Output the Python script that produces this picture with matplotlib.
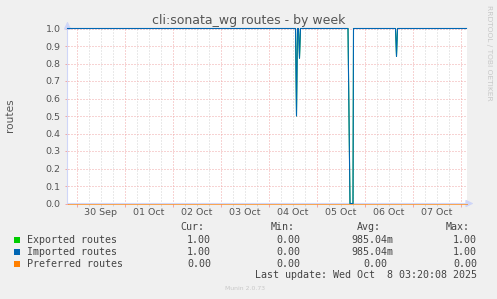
import matplotlib
matplotlib.use("Agg")
import matplotlib.pyplot as plt
from matplotlib.patches import Rectangle
from matplotlib.transforms import blended_transform_factory


# ---------- DATA ----------
# time in hours since 30 Sep 00:00
time_range = (-4.5, 195.0)
times = [-4.5, 109.5, 110.0, 110.5, 111.0, 111.5, 112.0,
         135.75, 136.75, 138.25, 138.5, 159.5, 160.0, 160.5, 195.0]
exported = [1.0, 1.0, 0.5, 1.0, 1.0, 0.83, 1.0,
            1.0, 0.0, 0.0, 1.0, 1.0, 0.84, 1.0, 1.0]
imported = [1.0, 1.0, 0.5, 1.0, 1.0, 0.83, 1.0,
            1.0, 0.0, 0.0, 1.0, 1.0, 0.84, 1.0, 1.0]
pref_times = [-4.5, 195.0]
preferred = [0.0, 0.0]

day_labels = ["30 Sep", "01 Oct", "02 Oct", "03 Oct",
              "04 Oct", "05 Oct", "06 Oct", "07 Oct"]
day_starts = [0, 24, 48, 72, 96, 120, 144, 168, 192]
six_hours = [h for h in range(0, 196, 6)]
y_ticks = [0.0, 0.1, 0.2, 0.3, 0.4, 0.5, 0.6, 0.7, 0.8, 0.9, 1.0]

series_names = ["Exported routes", "Imported routes", "Preferred routes"]
series_colors = ["#00CC00", "#0066B3", "#FF8000"]
cur = ["1.00", "1.00", "0.00"]
mins = ["0.00", "0.00", "0.00"]
avgs = ["985.04m", "985.04m", "0.00"]
maxs = ["1.00", "1.00", "0.00"]

W, H = 497, 299


def px(x, y):
    # pixel coords (top-left origin) -> figure fraction
    return x / W, 1 - y / H


# ---------- FIGURE ----------
fig = plt.figure(figsize=(W / 100, H / 100), dpi=100, facecolor="#F0F0F0")
# half-pixel offsets so 0.0 and 1.0 fall on pixel centres
left, top, right, bottom = 67.5, 28.5, 466.5, 203.5
ax = fig.add_axes([left / W, 1 - bottom / H, (right - left) / W, (bottom - top) / H])
ax.set_facecolor("white")
ax.set_xlim(*time_range)
ax.set_ylim(0, 1.0)
for s in ax.spines.values():
    s.set_visible(False)

grid_minor = "#d4d4d4"
grid_major = "#f0a8a8"
dots = (0, (1, 2))

for h in six_hours:
    if h not in day_starts:
        ax.axvline(h, color=grid_minor, lw=0.72, ls=dots, zorder=1)
for h in day_starts:
    ax.axvline(h, color=grid_major, lw=0.72, ls=dots, zorder=1)
for y in y_ticks[1:]:
    ax.axhline(y, color=grid_major, lw=0.72, ls=dots, zorder=1)

ax.set_yticks(y_ticks)
ax.set_yticklabels([f"{v:.1f}" for v in y_ticks])
ax.set_xticks(day_starts)
ax.set_xticklabels([])
ax.set_xticks([h for h in six_hours if h not in day_starts], minor=True)
ax.tick_params(axis="y", length=2.2, width=0.72, color=grid_major, pad=2.8,
               labelsize=6.8, labelcolor="#555555")
ax.tick_params(axis="x", which="major", length=2.2, width=0.72, color=grid_major)
ax.tick_params(axis="x", which="minor", length=1.5, width=0.72, color=grid_minor)

tr = blended_transform_factory(ax.transData, fig.transFigure)
for i, lab in enumerate(day_labels):
    ax.text(day_starts[i] + 12.25, 1 - 212.5 / H, lab, transform=tr,
            ha="center", va="center", fontsize=6.8, color="#555555")

# axes with arrows
axis_col = "#CFD6F8"
ax.annotate("", xy=(1.0175, 0), xytext=(0, 0), xycoords="axes fraction",
            arrowprops=dict(arrowstyle="-|>,head_length=0.45,head_width=0.22",
                            color=axis_col, lw=0.8, shrinkA=0, shrinkB=0),
            annotation_clip=False)
ax.annotate("", xy=(0, 1.04), xytext=(0, 0), xycoords="axes fraction",
            arrowprops=dict(arrowstyle="-|>,head_length=0.45,head_width=0.22",
                            color=axis_col, lw=0.8, shrinkA=0, shrinkB=0),
            annotation_clip=False)

# series
ax.plot(times, exported, color=series_colors[0], lw=0.72, zorder=3, clip_on=False)
ax.plot(times, imported, color=series_colors[1], lw=0.8, zorder=4, clip_on=False)
ax.plot(pref_times, preferred, color=series_colors[2], lw=0.72, alpha=0.65,
        zorder=5, clip_on=False)

# ---------- TEXTS ----------
fig.text(*px(248.8, 24), "cli:sonata_wg routes - by week", ha="center",
         va="baseline", fontsize=9.0, color="#555555")
fig.text(*px(10, 115), "routes", rotation=90, ha="center", va="center",
         fontsize=7.6, color="#555555")
fig.text(*px(489, 5), "RRDTOOL / TOBI OETIKER", rotation=270, ha="center",
         va="top", fontsize=5.4, color="#c8c8c8")
fig.text(*px(245, 288), "Munin 2.0.73", ha="center", va="center",
         fontsize=4.4, color="#c8c8c8")

mono = dict(family="DejaVu Sans Mono", fontsize=7.2, color="#444444", va="center")
fig.text(*px(204, 227), "Cur:", ha="right", **mono)
fig.text(*px(295, 227), "Min:", ha="right", **mono)
fig.text(*px(381, 227), "Avg:", ha="right", **mono)
fig.text(*px(470, 227), "Max:", ha="right", **mono)

rows = [240, 252, 264]
for i, name in enumerate(series_names):
    y = rows[i]
    x0, y0 = px(14, y + 3)
    fig.patches.append(Rectangle((x0, y0), 6 / W, 6 / H, transform=fig.transFigure,
                                 facecolor=series_colors[i], edgecolor="none"))
    fig.text(*px(27, y), name, ha="left", **mono)
    fig.text(*px(211, y), cur[i], ha="right", **mono)
    fig.text(*px(300, y), mins[i], ha="right", **mono)
    fig.text(*px(393 if avgs[i].endswith("m") else 387, y), avgs[i], ha="right", **mono)
    fig.text(*px(477, y), maxs[i], ha="right", **mono)

fig.text(*px(477, 275), "Last update: Wed Oct  8 03:20:08 2025", ha="right", **mono)

fig.savefig("out.png", dpi=100, facecolor=fig.get_facecolor())
